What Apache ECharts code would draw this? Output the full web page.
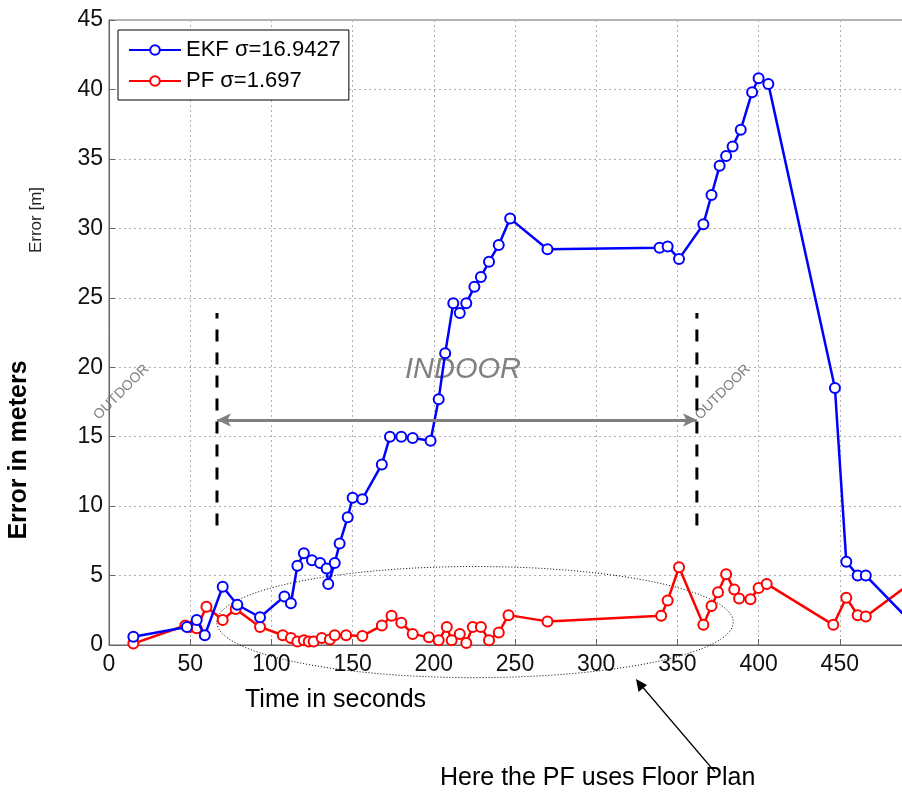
<!DOCTYPE html>
<html>
<head>
<meta charset="utf-8">
<script src="https://cdn.jsdelivr.net/npm/echarts@6/dist/echarts.min.js"></script>
<style>
  html, body { margin: 0; padding: 0; background: #fff; }
  #chart { width: 902px; height: 793px; }
</style>
</head>
<body>
<div id="chart"></div>
<script>
// EKF error (time s, error m)
const ekfTime = [15, 48, 54, 59, 70, 79, 93, 108, 112, 116, 120, 125, 130, 134, 135, 139, 142, 147, 150, 156, 168, 173, 180, 187, 198, 203, 207, 212, 216, 220, 225, 229, 234, 240, 247, 270, 339, 344, 351, 366, 371, 376, 380, 384, 389, 396, 400, 406, 447, 454, 461, 466, 500]
const ekfError = [0.6, 1.3, 1.8, 0.7, 4.2, 2.9, 2.0, 3.5, 3.0, 5.7, 6.6, 6.1, 5.9, 5.5, 4.4, 5.9, 7.3, 9.2, 10.6, 10.5, 13.0, 15.0, 15.0, 14.9, 14.7, 17.7, 21.0, 24.6, 23.9, 24.6, 25.8, 26.5, 27.6, 28.8, 30.7, 28.5, 28.6, 28.7, 27.8, 30.3, 32.4, 34.5, 35.2, 35.9, 37.1, 39.8, 40.8, 40.4, 18.5, 6.0, 5.0, 5.0, 0.9]

// PF error (time s, error m)
const pfTime = [15, 47, 50, 54, 60, 70, 78, 93, 107, 112, 116, 120, 123, 126, 131, 136, 139, 146, 156, 168, 174, 180, 187, 197, 203, 208, 211, 216, 220, 224, 229, 234, 240, 246, 270, 340, 344, 351, 366, 371, 375, 380, 385, 388, 395, 400, 405, 446, 454, 461, 466, 500]
const pfError = [0.1, 1.4, 1.3, 1.2, 2.75, 1.8, 2.6, 1.3, 0.7, 0.5, 0.25, 0.35, 0.25, 0.25, 0.5, 0.4, 0.7, 0.7, 0.65, 1.4, 2.1, 1.6, 0.8, 0.55, 0.35, 1.3, 0.35, 0.8, 0.15, 1.3, 1.3, 0.35, 0.9, 2.15, 1.7, 2.1, 3.2, 5.6, 1.45, 2.8, 3.8, 5.1, 4.0, 3.35, 3.3, 4.1, 4.4, 1.45, 3.4, 2.15, 2.05, 5.0]

// indoor / outdoor boundaries
const boundaryTime = [66.5, 362]
const boundarySpan = [8.6, 23.9]
const arrowLevel = 16.2

const xTicks = { min: 0, max: 500, interval: 50 }
const yTicks = { min: 0, max: 45, interval: 5 }

const chart = echarts.init(document.getElementById('chart'))

const pairs = (xs, ys) => xs.map((x, i) => [x, ys[i]])

const gridLine = { show: true, lineStyle: { color: '#b0b0b0', type: [2, 3], width: 1 } }
const font = 'Liberation Sans, Arial, sans-serif'

const option = {
  backgroundColor: '#fff',
  animation: false,
  textStyle: { fontFamily: font },
  grid: {
    left: 109, top: 20, width: 812, height: 625,
    outerBoundsMode: 'none',
    show: true, borderColor: '#666', borderWidth: 1,
  },
  legend: {
    data: ['EKF σ=16.9427', 'PF σ=1.697'],
    orient: 'vertical',
    left: 118,
    top: 30,
    itemWidth: 52,
    itemHeight: 12,
    itemGap: 9,
    padding: [9, 8, 8, 10],
    backgroundColor: '#fff',
    borderColor: '#000',
    borderWidth: 1,
    borderRadius: 0,
    textStyle: { fontSize: 22, color: '#000' },
  },
  xAxis: {
    type: 'value',
    min: xTicks.min,
    max: xTicks.max,
    interval: xTicks.interval,
    axisLine: { show: true, lineStyle: { color: '#666' } },
    axisTick: { show: true, inside: true, length: 6, lineStyle: { color: '#666' } },
    axisLabel: { fontSize: 23, color: '#111', margin: 8 },
    splitLine: gridLine,
  },
  yAxis: {
    type: 'value',
    min: yTicks.min,
    max: yTicks.max,
    interval: yTicks.interval,
    axisLine: { show: true, lineStyle: { color: '#666' } },
    axisTick: { show: true, inside: true, length: 6, lineStyle: { color: '#666' } },
    axisLabel: { fontSize: 23, color: '#111', margin: 6 },
    splitLine: gridLine,
  },
  series: [
    {
      name: 'EKF σ=16.9427',
      type: 'line',
      data: pairs(ekfTime, ekfError),
      color: '#0000ff',
      lineStyle: { color: '#0000ff', width: 2.5 },
      symbol: 'emptyCircle',
      symbolSize: 10,
      itemStyle: { color: '#0000ff', borderColor: '#0000ff', borderWidth: 2 },
      z: 4,
    },
    {
      name: 'PF σ=1.697',
      type: 'line',
      data: pairs(pfTime, pfError),
      color: '#ff0000',
      lineStyle: { color: '#ff0000', width: 2.5 },
      symbol: 'emptyCircle',
      symbolSize: 10,
      itemStyle: { color: '#ff0000', borderColor: '#ff0000', borderWidth: 2 },
      z: 3,
    },
    // dashed boundaries
    ...boundaryTime.map((t) => ({
      name: 'boundary',
      type: 'line',
      data: [[t, boundarySpan[0]], [t, boundarySpan[1]]],
      symbol: 'none',
      lineStyle: { color: '#000', width: 3, type: [12, 11] },
      silent: true,
      z: 2,
    })),
    {
      name: 'indoor span',
      type: 'line',
      data: [],
      silent: true,
      markLine: {
        silent: true,
        symbol: ['arrow', 'arrow'],
        symbolSize: [10, 14],
        label: { show: false },
        lineStyle: { color: '#808080', width: 3, type: 'solid' },
        data: [[{ coord: [boundaryTime[0], arrowLevel] }, { coord: [boundaryTime[1], arrowLevel] }]],
      },
    },
  ],
}

chart.setOption(option)

// annotations
const c = chart.convertToPixel({ gridIndex: 0 }, [225.4, 1.65])
const e = chart.convertToPixel({ gridIndex: 0 }, [225.4 + 159, 1.65 + 4.0])
const rx = e[0] - c[0]
const ry = c[1] - e[1]
const indoorPos = chart.convertToPixel({ gridIndex: 0 }, [218, 19.8])
const outL = chart.convertToPixel({ gridIndex: 0 }, [7.6, 18.2])
const outR = chart.convertToPixel({ gridIndex: 0 }, [377.9, 18.2])

chart.setOption({
  graphic: [
    {
      type: 'ellipse',
      shape: { cx: c[0], cy: c[1], rx: rx, ry: ry },
      style: { fill: 'none', stroke: '#000', lineWidth: 1, lineDash: [1, 2] },
      silent: true,
      z: 1,
    },
    {
      type: 'text',
      x: indoorPos[0],
      y: indoorPos[1],
      style: { text: 'INDOOR', fontSize: 29, fontStyle: 'italic', fill: '#808080', align: 'center', verticalAlign: 'middle', fontFamily: font },
      silent: true,
    },
    {
      type: 'text',
      x: outL[0],
      y: outL[1],
      rotation: Math.PI / 4,
      style: { text: 'OUTDOOR', fontSize: 14, fill: '#808080', align: 'center', verticalAlign: 'middle', fontFamily: font },
      silent: true,
    },
    {
      type: 'text',
      x: outR[0],
      y: outR[1],
      rotation: Math.PI / 4,
      style: { text: 'OUTDOOR', fontSize: 14, fill: '#808080', align: 'center', verticalAlign: 'middle', fontFamily: font },
      silent: true,
    },
    {
      type: 'text',
      x: 245,
      y: 700,
      style: { text: 'Time in seconds', fontSize: 25, fill: '#000', verticalAlign: 'middle', fontFamily: font },
      silent: true,
    },
    {
      type: 'text',
      x: 440,
      y: 778,
      style: { text: 'Here the PF uses Floor Plan', fontSize: 25, fill: '#000', verticalAlign: 'middle', fontFamily: font },
      silent: true,
    },
    {
      type: 'text',
      x: 36,
      y: 220,
      rotation: Math.PI / 2,
      style: { text: 'Error [m]', fontSize: 17, fill: '#222', align: 'center', verticalAlign: 'middle', fontFamily: 'Liberation Sans Narrow, Liberation Sans, Arial' },
      silent: true,
    },
    {
      type: 'text',
      x: 19,
      y: 450,
      rotation: Math.PI / 2,
      style: { text: 'Error in meters', fontSize: 25, fontWeight: 'bold', fill: '#000', align: 'center', verticalAlign: 'middle', fontFamily: font },
      silent: true,
    },
    {
      type: 'line',
      shape: { x1: 715, y1: 772, x2: 640, y2: 684 },
      style: { stroke: '#000', lineWidth: 1.2 },
      silent: true,
    },
    {
      type: 'polygon',
      shape: { points: [[636, 679], [638.5, 692], [647, 685]] },
      style: { fill: '#000' },
      silent: true,
    },
  ],
})
</script>
</body>
</html>
